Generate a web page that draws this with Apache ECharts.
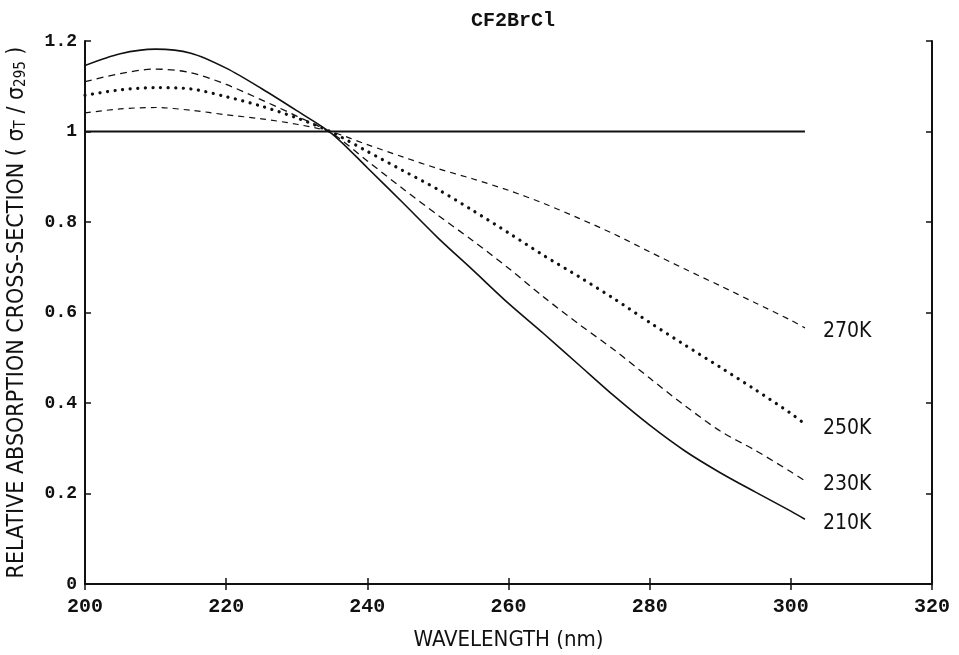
<!DOCTYPE html>
<html>
<head>
<meta charset="utf-8">
<script src="https://cdn.jsdelivr.net/npm/echarts@6/dist/echarts.min.js"></script>
<style>
    html, body { margin: 0; padding: 0; background: #fff; }
    #chart { width: 959px; height: 655px; }
</style>
</head>
<body>
<div id="chart"></div>
<script>
// 波长 (nm)
var wavelengths = [200, 205, 210, 215, 220, 225, 230, 235, 240, 245, 250, 255, 260, 265, 270, 275, 280, 285, 290, 295, 300, 302];
// 各温度相对吸收截面
var r210 = [1.146, 1.172, 1.182, 1.173, 1.140, 1.095, 1.046, 0.995, 0.920, 0.843, 0.765, 0.693, 0.620, 0.553, 0.484, 0.415, 0.351, 0.294, 0.246, 0.203, 0.161, 0.143];
var r230 = [1.110, 1.128, 1.138, 1.130, 1.104, 1.070, 1.034, 0.996, 0.935, 0.874, 0.815, 0.758, 0.698, 0.634, 0.574, 0.517, 0.455, 0.394, 0.338, 0.295, 0.248, 0.228];
var r250 = [1.080, 1.092, 1.097, 1.094, 1.077, 1.056, 1.030, 0.998, 0.956, 0.914, 0.872, 0.825, 0.776, 0.726, 0.679, 0.630, 0.578, 0.528, 0.479, 0.429, 0.377, 0.353];
var r270 = [1.041, 1.050, 1.053, 1.047, 1.037, 1.028, 1.016, 0.999, 0.971, 0.944, 0.918, 0.895, 0.870, 0.841, 0.808, 0.773, 0.734, 0.696, 0.659, 0.621, 0.583, 0.566];
// 参考线 σT/σ295 = 1
var refX = [200, 302];
var refY = [1, 1];
var seriesNames = ['210K', '230K', '250K', '270K'];
var xTicks = [200, 220, 240, 260, 280, 300, 320];

var condFont = "'DejaVu Sans Condensed', 'Liberation Sans Narrow', 'DejaVu Sans', sans-serif";
var monoFont = "'Liberation Mono', 'DejaVu Sans Mono', monospace";

function pairs(xs, ys) {
    var out = [];
    for (var i = 0; i < xs.length; i++) {
        out.push([xs[i], ys[i]]);
    }
    return out;
}

function curve(name, values, lineStyle) {
    return {
        name: name,
        type: 'line',
        data: pairs(wavelengths, values),
        showSymbol: false,
        smooth: 0.3,
        lineStyle: lineStyle,
        endLabel: {
            show: true,
            formatter: '{a}',
            offset: [10, 4],
            color: '#111',
            fontSize: 21,
            fontFamily: condFont
        },
        silent: true
    };
}

var axisLine = { show: true, lineStyle: { color: '#111', width: 2 } };
var axisTick = { show: true, inside: true, length: 6, lineStyle: { color: '#111', width: 1.5 } };

var chart = echarts.init(document.getElementById('chart'));
chart.setOption({
    animation: false,
    backgroundColor: '#fff',
    title: {
        text: 'CF2BrCl',
        left: 508,
        textAlign: 'center',
        top: 6,
        textStyle: { fontFamily: monoFont, fontSize: 20, fontWeight: 'bold', color: '#111' }
    },
    grid: { left: 85, right: 27, top: 41, bottom: 71, outerBoundsMode: 'none', containLabel: false },
    xAxis: [
        {
            type: 'value', min: 200, max: 320, interval: 20, position: 'bottom',
            axisLine: axisLine, axisTick: axisTick, splitLine: { show: false },
            axisLabel: {
                margin: 13, color: '#111', fontSize: 20, fontFamily: monoFont, fontWeight: 'bold',
                formatter: function (v) { return xTicks.indexOf(v) >= 0 ? String(v) : ''; }
            },
            name: 'WAVELENGTH (nm)', nameLocation: 'middle', nameGap: 45,
            nameTextStyle: { color: '#111', fontSize: 22, fontFamily: condFont }
        },
        {
            type: 'value', min: 200, max: 320, interval: 20, position: 'top',
            axisLine: axisLine, axisTick: axisTick, splitLine: { show: false },
            axisLabel: { show: false }
        }
    ],
    yAxis: [
        {
            type: 'value', min: 0, max: 1.2, interval: 0.2, position: 'left',
            axisLine: axisLine, axisTick: axisTick, splitLine: { show: false },
            axisLabel: { margin: 8, color: '#111', fontSize: 18, fontFamily: monoFont, fontWeight: 'bold' },
            name: 'RELATIVE ABSORPTION CROSS-SECTION ( {s|σ}{sub|T} / {s|σ}{sub|295} )',
            nameLocation: 'middle', nameGap: 56,
            nameTextStyle: {
                color: '#111', fontSize: 23, fontFamily: condFont,
                rich: {
                    s: { fontSize: 23, fontFamily: condFont, color: '#111' },
                    sub: { fontSize: 15, fontFamily: condFont, color: '#111', verticalAlign: 'bottom', padding: [9, 0, 0, 0] }
                }
            }
        },
        {
            type: 'value', min: 0, max: 1.2, interval: 0.2, position: 'right',
            axisLine: axisLine, axisTick: axisTick, splitLine: { show: false },
            axisLabel: { show: false }
        }
    ],
    series: [
        {
            name: 'ref',
            type: 'line',
            data: pairs(refX, refY),
            showSymbol: false,
            lineStyle: { color: '#111', width: 2.2 },
            silent: true
        },
        curve(seriesNames[0], r210, { color: '#111', width: 1.6, type: 'solid' }),
        curve(seriesNames[1], r230, { color: '#111', width: 1.3, type: [7, 5] }),
        curve(seriesNames[2], r250, { color: '#111', width: 3.2, type: [0.1, 7.5], cap: 'round' }),
        curve(seriesNames[3], r270, { color: '#111', width: 1.2, type: [6, 5] })
    ]
});
</script>
</body>
</html>
